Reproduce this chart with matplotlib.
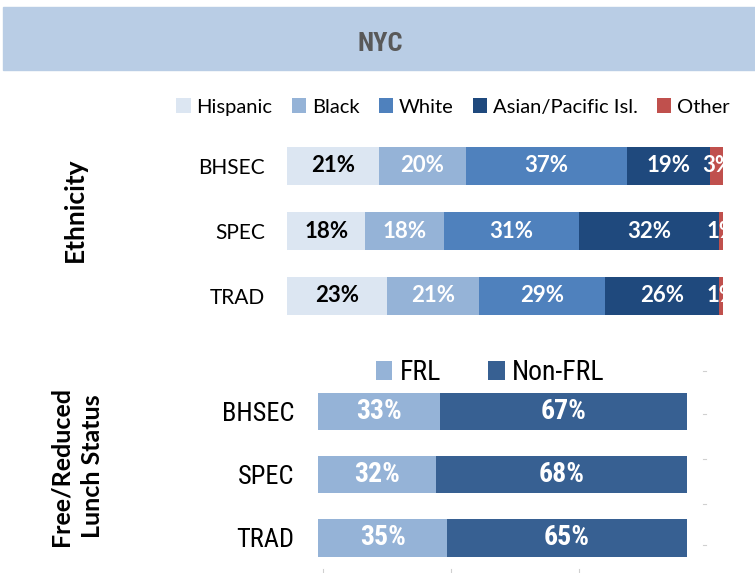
import matplotlib
matplotlib.use("Agg")
import matplotlib.pyplot as plt
from matplotlib.patches import Rectangle
from matplotlib.lines import Line2D
from matplotlib import font_manager

schools = ["BHSEC", "SPEC", "TRAD"]
eth_groups = ["Hispanic", "Black", "White", "Asian/Pacific Isl.", "Other"]
hispanic = [21, 18, 23]
black = [20, 18, 21]
white = [37, 31, 29]
asian = [19, 32, 26]
other = [3, 1, 1]
frl_groups = ["FRL", "Non-FRL"]
frl = [33, 32, 35]
non_frl = [67, 68, 65]

eth_colors = ["#dce6f2", "#95b3d7", "#4f81bd", "#1f497d", "#c0504d"]
eth_text = ["black", "white", "white", "white", "white"]
frl_colors = ["#95b3d7", "#376092"]

names = {f.name for f in font_manager.fontManager.ttflist}
MAIN = ["Lato", "DejaVu Sans"] if "Lato" in names else ["DejaVu Sans"]
narrow_name = None
for cand in ["Liberation Sans Narrow", "DejaVu Sans Condensed", "Roboto Condensed",
             "Open Sans Condensed", "Noto Sans Condensed"]:
    if cand in names:
        narrow_name = cand
        break
NARROW_STRETCH = "normal"
if narrow_name is None:
    for f in font_manager.fontManager.ttflist:
        if f.stretch in ("condensed", "semi-condensed") and "Sans" in f.name:
            narrow_name = f.name
            NARROW_STRETCH = f.stretch
            break
HAS_NARROW = narrow_name is not None
NARROW = [narrow_name, "DejaVu Sans"] if HAS_NARROW else MAIN
nb = 0 if HAS_NARROW else -2

W, H = 755, 573
fig = plt.figure(figsize=(W / 100, H / 100), dpi=100)

def fx(px):
    return px / W

def fy(py):
    return 1 - py / H

# header band
fig.patches.append(Rectangle((fx(3), fy(70)), fx(755) - fx(3), fy(7) - fy(70),
                             transform=fig.transFigure, color="#b9cde5", zorder=0))
fig.text(fx(380), fy(44), "NYC", ha="center", va="center", fontsize=19,
         fontweight="bold", color="#595959", family=NARROW, stretch=NARROW_STRETCH)

# ---------- Ethnicity chart ----------
ax1 = fig.add_axes([fx(287), fy(328.5), fx(723) - fx(287), fy(133.5) - fy(328.5)])
series = [hispanic, black, white, asian, other]
left = [0, 0, 0]
handles = []
for i, vals in enumerate(series):
    bars = ax1.barh(schools, vals, left=left, height=0.59, color=eth_colors[i],
                    label=eth_groups[i])
    handles.append(bars)
    for b, v, l in zip(bars, vals, left):
        t = ax1.text(l + v / 2 + (0.2 if i == 4 else 0), b.get_y() + b.get_height() / 2,
                     f"{v}%", ha="center", va="center", fontsize=16, fontweight="bold",
                     color=eth_text[i], family=MAIN)
        t.set_clip_on(True)
    left = [a + b for a, b in zip(left, vals)]
ax1.set_xlim(0, 100)
ax1.set_ylim(2.5, -0.5)
ax1.set_xticks([])
ax1.tick_params(axis="y", length=0, pad=16, labelsize=15)
for lab in ax1.get_yticklabels():
    lab.set_family(MAIN)
for s in ax1.spines.values():
    s.set_visible(False)

fig.legend(handles=handles, labels=eth_groups, loc="center", ncol=5,
           bbox_to_anchor=(fx(453), fy(107)), frameon=False,
           prop={"family": MAIN, "size": 14.5}, handlelength=0.7, handleheight=0.7,
           handletextpad=0.3, columnspacing=0.95, borderaxespad=0)

fig.text(fx(75), fy(210), "Ethnicity", rotation=90, ha="center", va="center",
         fontsize=19, fontweight="bold", family=MAIN)

# ---------- FRL chart ----------
ax2 = fig.add_axes([fx(318), fy(569.6), fx(687) - fx(318), fy(379.9) - fy(569.6)])
h2 = []
left = [0, 0, 0]
for i, vals in enumerate([frl, non_frl]):
    bars = ax2.barh(schools, vals, left=left, height=0.593, color=frl_colors[i],
                    label=frl_groups[i])
    h2.append(bars)
    for b, v, l in zip(bars, vals, left):
        ax2.text(l + v / 2, b.get_y() + b.get_height() / 2, f"{v}%", ha="center",
                 va="center", fontsize=20 + nb, fontweight="bold", color="white",
                 family=NARROW, stretch=NARROW_STRETCH)
    left = [a + b for a, b in zip(left, vals)]
ax2.set_xlim(0, 100)
ax2.set_ylim(2.5, -0.5)
ax2.set_xticks([])
ax2.tick_params(axis="y", length=0, pad=17, labelsize=19 + nb)
for lab in ax2.get_yticklabels():
    lab.set_family(NARROW)
    lab.set_stretch(NARROW_STRETCH)
for s in ax2.spines.values():
    s.set_visible(False)

fig.legend(handles=h2, labels=frl_groups, loc="center", ncol=2,
           bbox_to_anchor=(fx(490), fy(373)), frameon=False,
           prop={"family": NARROW, "size": 20 + nb, "stretch": NARROW_STRETCH},
           handlelength=0.6, handleheight=0.65,
           handletextpad=0.25, columnspacing=1.7, borderaxespad=0)

fig.text(fx(61), fy(466), "Free/Reduced", rotation=90, ha="center", va="center",
         fontsize=18, fontweight="bold", family=MAIN)
fig.text(fx(92), fy(466), "Lunch Status", rotation=90, ha="center", va="center",
         fontsize=18, fontweight="bold", family=MAIN)

# faint axis tick remnants
for x in [322.7, 451, 578.7]:
    fig.add_artist(Line2D([fx(x), fx(x)], [fy(569), fy(573)], transform=fig.transFigure,
                          color="#d0d0d0", lw=0.8))
for y in [371, 414, 459, 504, 545]:
    fig.add_artist(Line2D([fx(703), fx(706)], [fy(y), fy(y)], transform=fig.transFigure,
                          color="#d0d0d0", lw=0.8))

fig.savefig("out.png", dpi=100)
